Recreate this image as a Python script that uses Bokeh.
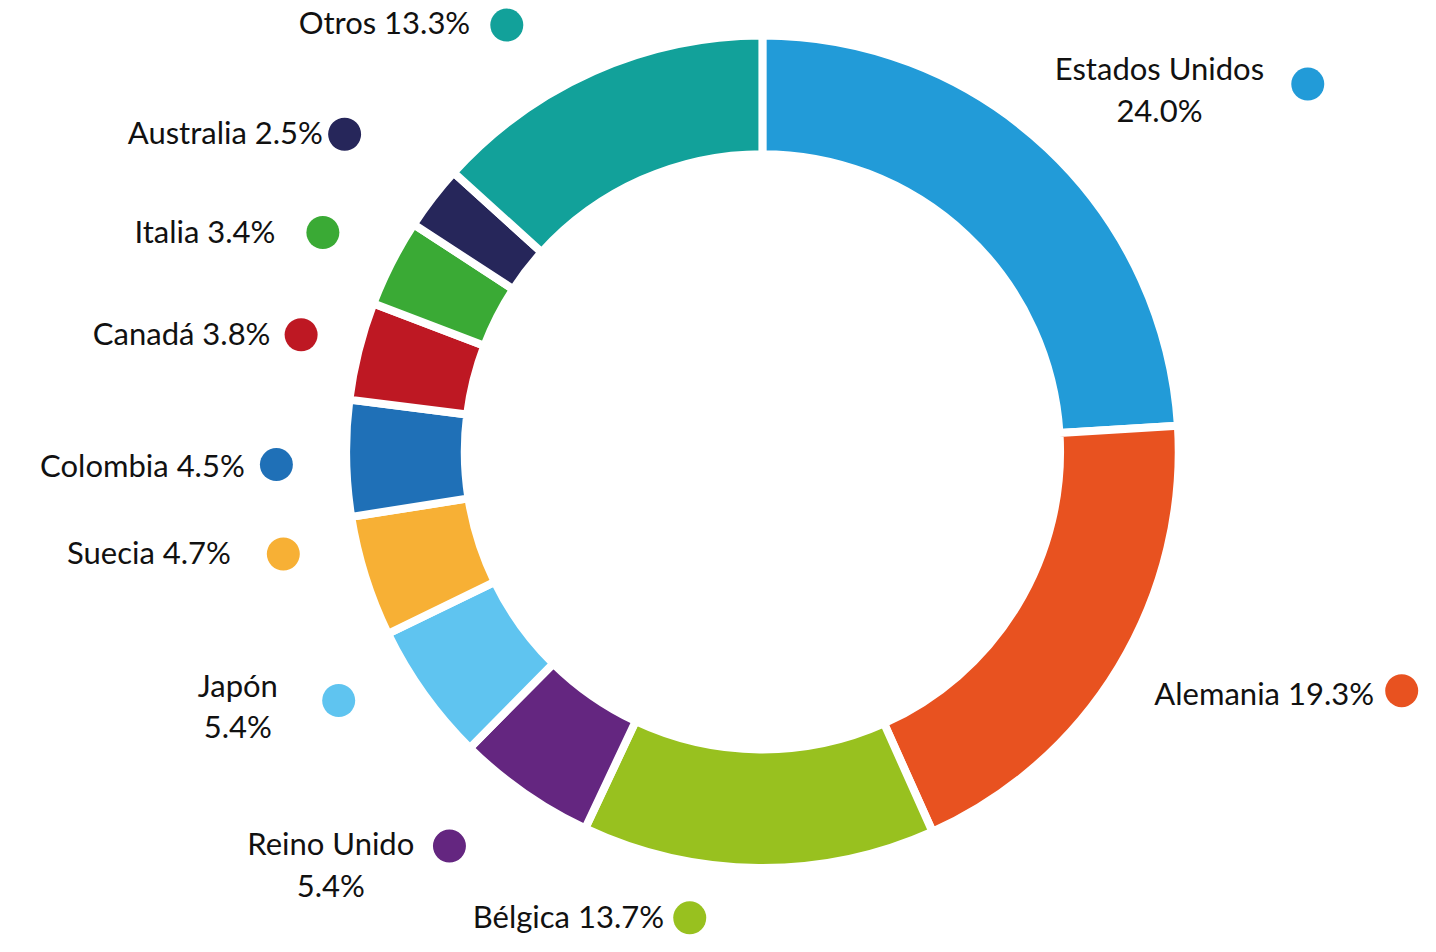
import math
from bokeh.plotting import figure
from bokeh.models import Range1d, ColumnDataSource
from bokeh.core.properties import value
from bokeh.embed import file_html
from bokeh.resources import INLINE

# ---- data ----
countries = ["Estados Unidos", "Alemania", "Bélgica", "Reino Unido", "Japón",
             "Suecia", "Colombia", "Canadá", "Italia", "Australia", "Otros"]
shares = [24.0, 19.3, 13.7, 5.4, 5.4, 4.7, 4.5, 3.8, 3.4, 2.5, 13.3]
colors = ["#229BD8", "#E85220", "#98C11F", "#642680", "#5FC4F0",
          "#F7B035", "#1F70B7", "#BE1823", "#3AAA35", "#26265A", "#12A19A"]

# ---- layout (reference pixel positions) ----
W, H = 1420, 936
CX, CY = 770.5, 459
R_OUT, R_IN = 421, 301
GAP = 8
label_pos = [(1172, 90), (1389, 704), (671, 931), (334, 878), (240, 717),
             (233, 561), (247, 472), (273, 338), (278, 234), (326, 134), (475, 22)]
label_align = ["center", "right", "right", "center", "center",
               "right", "right", "right", "right", "right", "right"]
label_sep = ["\n", " ", " ", "\n", "\n", " ", " ", " ", " ", " ", " "]
dot_pos = [(1322, 85), (1417, 702), (697, 933), (454, 860), (342, 712),
           (286, 563), (279, 472), (304, 340), (326, 236), (348, 136), (512, 25)]
DOT_R = 16.5


def sy(y):
    return 952 - y


p = figure(width=W, height=H, output_backend="svg", toolbar_location=None,
           x_range=Range1d(0, 1436), y_range=Range1d(0, 952),
           min_border=0, outline_line_color=None)
p.axis.visible = False
p.grid.visible = False
p.background_fill_color = "white"

total = sum(shares)
starts, ends = [], []
acc = 0.0
for s in shares:
    a0 = math.pi / 2 - 2 * math.pi * acc / total
    acc += s
    a1 = math.pi / 2 - 2 * math.pi * acc / total
    starts.append(a0)
    ends.append(a1)

src = ColumnDataSource(dict(start=starts, end=ends, color=colors))
p.annular_wedge(x=CX, y=sy(CY), inner_radius=R_IN, outer_radius=R_OUT,
                start_angle="start", end_angle="end", direction="clock",
                fill_color="color", line_color="white", line_width=GAP,
                source=src)

p.scatter(x=[d[0] for d in dot_pos], y=[sy(d[1]) for d in dot_pos],
          size=2 * DOT_R, marker="circle", fill_color=colors, line_color=None)

texts = [f"{c}{sep}{v:.1f}%" for c, v, sep in zip(countries, shares, label_sep)]
lsrc = ColumnDataSource(dict(x=[l[0] for l in label_pos],
                             y=[sy(l[1]) for l in label_pos],
                             text=texts, align=label_align))
p.text(x="x", y="y", text="text", text_align="align", text_baseline="middle",
       text_font=value("Lato"), text_font_size="31px", text_color="#111111",
       text_line_height=1.1, source=lsrc)

open("out.html", "w").write(file_html(p, INLINE))
